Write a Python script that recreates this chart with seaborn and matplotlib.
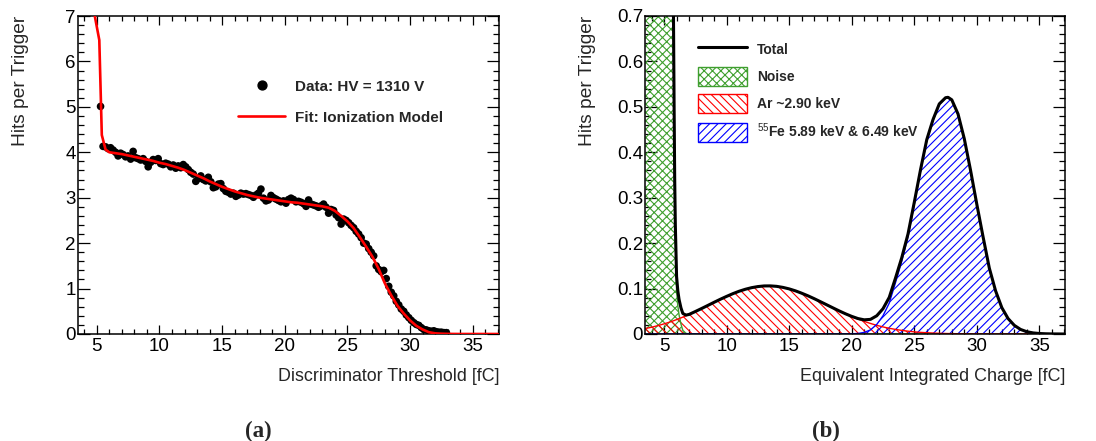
import numpy as np
import pandas as pd
import matplotlib
matplotlib.use("Agg")
import matplotlib.pyplot as plt
import seaborn as sns
from matplotlib.lines import Line2D
from matplotlib.patches import Patch
from matplotlib.ticker import FixedLocator, MultipleLocator

# ---------------- Panel (a): threshold scan ----------------
thr_x = [5.3, 5.5, 5.7, 5.9, 6.1, 6.3, 6.5, 6.7, 6.9,
         7.1, 7.3, 7.5, 7.7, 7.9, 8.1, 8.3, 8.5, 8.7, 8.9,
         9.1, 9.3, 9.5, 9.7, 9.9, 10.1, 10.3, 10.5, 10.7, 10.9,
         11.1, 11.3, 11.5, 11.7, 11.9, 12.1, 12.3, 12.5, 12.7, 12.9,
         13.1, 13.3, 13.5, 13.7, 13.9, 14.1, 14.3, 14.5, 14.7, 14.9,
         15.1, 15.3, 15.5, 15.7, 15.9, 16.1, 16.3, 16.5, 16.7, 16.9,
         17.1, 17.3, 17.5, 17.7, 17.9, 18.1, 18.3, 18.5, 18.7, 18.9,
         19.1, 19.3, 19.5, 19.7, 19.9, 20.1, 20.3, 20.5, 20.7, 20.9,
         21.1, 21.3, 21.5, 21.7, 21.9, 22.1, 22.3, 22.5, 22.7, 22.9,
         23.1, 23.3, 23.5, 23.7, 23.9, 24.1, 24.3, 24.5, 24.7, 24.9,
         25.1, 25.3, 25.5, 25.7, 25.9, 26.1, 26.3, 26.5, 26.7, 26.9,
         27.1, 27.3, 27.5, 27.7, 27.9, 28.1, 28.3, 28.5, 28.7, 28.9,
         29.1, 29.3, 29.5, 29.7, 29.9, 30.1, 30.3, 30.5, 30.7, 30.9,
         31.1, 31.3, 31.5, 31.7, 31.9, 32.1, 32.3, 32.5, 32.7, 32.9]
hits = [5.01, 4.13, 4.12, 4.08, 4.10, 4.05, 4.00, 3.92, 3.98,
        3.95, 3.90, 3.92, 3.85, 4.02, 3.88, 3.86, 3.83, 3.86, 3.80,
        3.68, 3.78, 3.84, 3.82, 3.86, 3.75, 3.73, 3.76, 3.74, 3.68,
        3.72, 3.65, 3.70, 3.66, 3.73, 3.68, 3.62, 3.56, 3.52, 3.36,
        3.42, 3.48, 3.40, 3.37, 3.45, 3.35, 3.22, 3.24, 3.30, 3.31,
        3.20, 3.14, 3.12, 3.08, 3.10, 3.03, 3.06, 3.10, 3.08, 3.09,
        3.07, 3.05, 3.01, 3.06, 3.10, 3.19, 2.99, 2.93, 2.95, 3.05,
        3.00, 2.97, 2.94, 2.91, 2.93, 2.88, 2.96, 2.99, 2.96, 2.91,
        2.92, 2.90, 2.87, 2.81, 2.95, 2.86, 2.84, 2.82, 2.79, 2.82,
        2.86, 2.79, 2.66, 2.74, 2.72, 2.62, 2.56, 2.42, 2.53, 2.50,
        2.45, 2.39, 2.34, 2.26, 2.20, 2.12, 2.00, 1.98, 1.88, 1.80,
        1.72, 1.50, 1.42, 1.37, 1.40, 1.22, 1.05, 0.92, 0.84, 0.72,
        0.64, 0.55, 0.50, 0.42, 0.36, 0.30, 0.25, 0.21, 0.19, 0.14,
        0.10, 0.09, 0.07, 0.06, 0.07, 0.05, 0.04, 0.04, 0.03, 0.03]

fit_x = [4.5, 5.2, 5.4, 5.7, 6.0, 6.5, 7.0, 7.5, 8.0, 8.5, 9.0, 9.5, 10.0,
         10.5, 11.0, 11.5, 12.0, 12.5, 13.0, 13.5, 14.0, 14.5, 15.0, 15.5,
         16.0, 16.5, 17.0, 17.5, 18.0, 18.5, 19.0, 19.5, 20.0, 20.5, 21.0,
         21.5, 22.0, 22.5, 23.0, 23.5, 24.0, 24.5, 25.0, 25.5, 26.0, 26.5,
         27.0, 27.5, 28.0, 28.5, 29.0, 29.5, 30.0, 30.5, 31.0, 31.5, 32.0,
         32.5, 33.0, 33.5, 34.0, 35.0, 36.0, 37.0]
fit_y = [7.5, 6.47, 4.38, 4.06, 4.00, 3.98, 3.96, 3.93, 3.90, 3.87, 3.84, 3.81, 3.77,
         3.74, 3.70, 3.66, 3.61, 3.55, 3.49, 3.43, 3.36, 3.30, 3.24, 3.19,
         3.14, 3.10, 3.06, 3.03, 3.00, 2.98, 2.96, 2.94, 2.92, 2.90, 2.89,
         2.87, 2.85, 2.83, 2.81, 2.78, 2.71, 2.60, 2.48, 2.33, 2.13, 1.92,
         1.70, 1.43, 1.11, 0.85, 0.62, 0.45, 0.30, 0.18, 0.10, 0.04, 0.015,
         0.007, 0.003, 0.001, 0.0, 0.0, 0.0, 0.0]

# ---------------- Panel (b): charge spectrum components ----------------
q_x = [3.5, 4.0, 4.5, 5.0, 5.3, 5.5, 5.6, 5.7, 5.75, 5.8, 5.85, 5.9, 6.0, 6.1, 6.2, 6.35, 6.5, 6.75,
       7.0, 7.5, 8.0, 8.5, 9.0, 9.5, 10.0, 10.5, 11.0, 11.5, 12.0, 12.5, 13.0, 13.5, 14.0, 14.5,
       15.0, 15.5, 16.0, 16.5, 17.0, 17.5, 18.0, 18.5, 19.0, 19.5, 20.0, 20.5, 21.0, 21.5, 22.0,
       22.5, 23.0, 23.5, 24.0, 24.5, 25.0, 25.5, 26.0, 26.5, 27.0, 27.5, 27.7, 28.0, 28.5, 29.0,
       29.5, 30.0, 30.5, 31.0, 31.5, 32.0, 32.5, 33.0, 33.5, 34.0, 34.5, 35.0, 35.5, 36.0, 36.5, 37.0]
noise = [60.0, 30.0, 12.0, 4.5, 2.2, 1.5, 1.15, 0.85, 0.68, 0.48, 0.31, 0.21, 0.095, 0.062, 0.042, 0.022, 0.008, 0.0015,
         0, 0, 0, 0, 0, 0, 0, 0, 0, 0, 0, 0, 0, 0, 0, 0,
         0, 0, 0, 0, 0, 0, 0, 0, 0, 0, 0, 0, 0, 0, 0,
         0, 0, 0, 0, 0, 0, 0, 0, 0, 0, 0, 0, 0, 0, 0,
         0, 0, 0, 0, 0, 0, 0, 0, 0, 0, 0, 0, 0, 0, 0, 0]
argon = [0.0120, 0.0149, 0.0184, 0.0223, 0.0249, 0.0267, 0.0277, 0.0287, 0.0291, 0.0296, 0.0302, 0.0307,
         0.0317, 0.0328, 0.0339, 0.0355, 0.0372, 0.0401,
         0.0431, 0.0495, 0.0561, 0.0629, 0.0698, 0.0765, 0.0828, 0.0888, 0.0941, 0.0985, 0.1020, 0.1044,
         0.1058, 0.1059, 0.1049, 0.1026,
         0.0993, 0.0950, 0.0898, 0.0841, 0.0778, 0.0711, 0.0643, 0.0575, 0.0508, 0.0444, 0.0384, 0.0328,
         0.0277, 0.0232, 0.0191,
         0.0156, 0.0126, 0.0101, 0.0079, 0.0062, 0.0047, 0.0036, 0.0028, 0.0021, 0.0015, 0.0011, 0.0010,
         0.0008, 0.0006, 0.0004,
         0.0003, 0.0002, 0.0002, 0.0001, 0.0001, 0, 0, 0, 0, 0, 0, 0, 0, 0, 0, 0]
iron = [0, 0, 0, 0, 0, 0, 0, 0, 0, 0, 0, 0, 0, 0, 0, 0, 0, 0,
        0, 0, 0, 0, 0, 0, 0, 0, 0, 0, 0, 0, 0, 0, 0, 0,
        0, 0, 0, 0, 0, 0, 0, 0, 0, 0.0001, 0.0004, 0.0012, 0.0035, 0.009, 0.021,
        0.040, 0.068, 0.113, 0.160, 0.214, 0.285, 0.358, 0.425, 0.470, 0.505, 0.519, 0.520, 0.5147, 0.4836, 0.4293,
        0.3601, 0.2855, 0.2138, 0.145, 0.095, 0.058, 0.034, 0.019, 0.010, 0.005, 0.0024, 0.0011, 0.0005, 0.0002, 0.0001, 0.0]

x_ticks = [5, 10, 15, 20, 25, 30, 35]
x_tick_labels = ["5", "10", "15", "20", "25", "30", "35"]
ya_ticks = [0, 1, 2, 3, 4, 5, 6, 7]
ya_tick_labels = ["0", "1", "2", "3", "4", "5", "6", "7"]
yb_ticks = [0, 0.1, 0.2, 0.3, 0.4, 0.5, 0.6, 0.7]
yb_tick_labels = ["0", "0.1", "0.2", "0.3", "0.4", "0.5", "0.6", "0.7"]

legend_a = ["Data: HV = 1310 V", "Fit: Ionization Model"]
legend_b = ["Total", "Noise", "Ar ~2.90 keV", r"$^{55}$Fe 5.89 keV & 6.49 keV"]

# ---------------- style ----------------
sns.set_theme(style="ticks")
plt.rcParams["font.family"] = ["Liberation Sans", "DejaVu Sans"]
plt.rcParams["mathtext.fontset"] = "custom"
plt.rcParams["mathtext.rm"] = "Liberation Sans"
plt.rcParams["mathtext.it"] = "Liberation Sans:italic"
plt.rcParams["mathtext.bf"] = "Liberation Sans:bold"
plt.rcParams["hatch.linewidth"] = 0.8
plt.rcParams["axes.linewidth"] = 1.1

GREEN = "#3f9f2f"
RED = "#ff0000"
BLUE = "#0000ff"
HATCH_NOISE = "xxxx"
HATCH_AR = "\\\\\\\\"
HATCH_FE = "////"

fig = plt.figure(figsize=(10.96, 4.41), dpi=100)
W, H = 1096.0, 441.0
ax_a = fig.add_axes([78 / W, (H - 334) / H, 421 / W, 318 / H])
ax_b = fig.add_axes([645.3 / W, (H - 334) / H, 419.7 / W, 318 / H])

FS = 13.5


def root_style(ax, xmin, xmax, ymin, ymax, yticks, ylabels, yminor, xlabel):
    ax.set_xlim(xmin, xmax)
    ax.set_ylim(ymin, ymax)
    ax.xaxis.set_major_locator(FixedLocator(x_ticks))
    ax.set_xticklabels(x_tick_labels)
    ax.xaxis.set_minor_locator(MultipleLocator(1))
    ax.yaxis.set_major_locator(FixedLocator(yticks))
    ax.set_yticklabels(ylabels)
    ax.yaxis.set_minor_locator(MultipleLocator(yminor))
    ax.tick_params(which="both", direction="in", top=True, right=True,
                   colors="black", labelsize=FS, width=0.9)
    ax.tick_params(axis="x", which="major", length=6.5, pad=3)
    ax.tick_params(axis="x", which="minor", length=3.3)
    ax.tick_params(axis="y", which="major", length=8.8, pad=1.5)
    ax.tick_params(axis="y", which="minor", length=4.4)
    for s in ax.spines.values():
        s.set_color("black")
        s.set_linewidth(1.1)
        s.set_visible(True)
    ax.set_ylabel("Hits per Trigger", fontsize=13.8, loc="top")
    ax.set_xlabel(xlabel, fontsize=12.9, loc="right")
    ax.yaxis.set_label_coords(-0.117, 1.0)
    ax.xaxis.set_label_coords(1.0, -0.108)
    ax.set_facecolor("white")


# ---- Panel (a)
df_a = pd.DataFrame({"thr": thr_x, "hits": hits})
df_fit = pd.DataFrame({"thr": fit_x, "fit": fit_y})
sns.scatterplot(data=df_a, x="thr", y="hits", color="black", s=30,
                edgecolor="none", linewidth=0, ax=ax_a, zorder=2)
sns.lineplot(data=df_fit, x="thr", y="fit", color=RED, linewidth=1.9,
             estimator=None, sort=False, ax=ax_a, zorder=3)
root_style(ax_a, 3.5, 37.1, 0, 7, ya_ticks, ya_tick_labels, 0.2,
           "Discriminator Threshold [fC]")
handles_a = [Line2D([], [], marker="o", linestyle="none", color="black", markersize=6.4),
             Line2D([], [], color=RED, linewidth=1.9)]
ax_a.legend(handles_a, legend_a, loc="upper left", bbox_to_anchor=(0.38, 0.7995),
            frameon=False, prop={"family": "Liberation Sans", "weight": "bold", "size": 11},
            handlelength=3.1, handletextpad=0.65, labelspacing=1.1,
            borderpad=0, borderaxespad=0, numpoints=1)

# ---- Panel (b)
df_b = pd.DataFrame({"q": q_x, "noise": noise, "argon": argon, "iron": iron})
df_b["total"] = df_b["noise"] + df_b["argon"] + df_b["iron"]

ax_b.fill_between(df_b["q"], 0, df_b["noise"], facecolor="none", edgecolor=GREEN,
                  hatch=HATCH_NOISE, linewidth=0, zorder=1)
ax_b.fill_between(df_b["q"], 0, df_b["argon"], facecolor="none", edgecolor=RED,
                  hatch=HATCH_AR, linewidth=0, zorder=1.1)
ax_b.fill_between(df_b["q"], 0, df_b["iron"], facecolor="none", edgecolor=BLUE,
                  hatch=HATCH_FE, linewidth=0, zorder=1.2)
sns.lineplot(data=df_b, x="q", y="noise", color=GREEN, linewidth=1.0,
             estimator=None, sort=False, ax=ax_b, zorder=2)
sns.lineplot(data=df_b, x="q", y="argon", color=RED, linewidth=1.0,
             estimator=None, sort=False, ax=ax_b, zorder=2.1)
sns.lineplot(data=df_b, x="q", y="iron", color=BLUE, linewidth=1.0,
             estimator=None, sort=False, ax=ax_b, zorder=2.2)
sns.lineplot(data=df_b, x="q", y="total", color="black", linewidth=2.2,
             estimator=None, sort=False, ax=ax_b, zorder=3)
root_style(ax_b, 3.5, 37.05, 0, 0.7, yb_ticks, yb_tick_labels, 0.02,
           "Equivalent Integrated Charge [fC]")
handles_b = [Line2D([], [], color="black", linewidth=2.2),
             Patch(facecolor="none", edgecolor=GREEN, hatch=HATCH_NOISE, linewidth=1.0),
             Patch(facecolor="none", edgecolor=RED, hatch=HATCH_AR, linewidth=1.0),
             Patch(facecolor="none", edgecolor=BLUE, hatch=HATCH_FE, linewidth=1.0)]
ax_b.legend(handles_b, legend_b, loc="upper left", bbox_to_anchor=(0.125, 0.926),
            frameon=False, prop={"family": "Liberation Sans", "weight": "bold", "size": 10},
            handlelength=3.53, handleheight=1.728, handletextpad=0.72, labelspacing=0.60,
            borderpad=0, borderaxespad=0)

# captions
fig.text(258.7 / W, 1 - 431 / H, "(a)", ha="center", va="center",
         family="Liberation Serif", weight="bold", fontsize=16.5)
fig.text(826 / W, 1 - 431 / H, "(b)", ha="center", va="center",
         family="Liberation Serif", weight="bold", fontsize=16.5)

fig.savefig("out.png", dpi=100, facecolor="white")
